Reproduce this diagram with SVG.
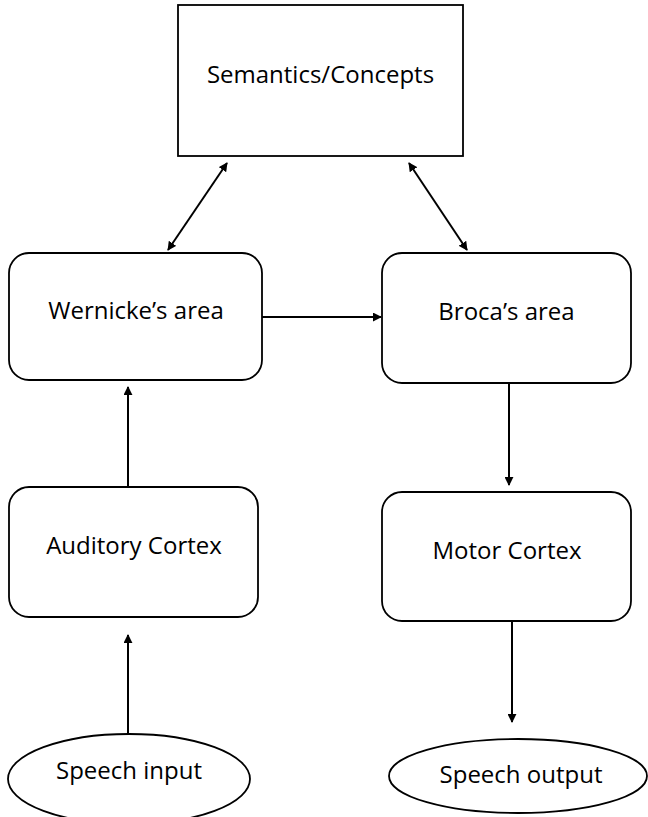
<svg xmlns="http://www.w3.org/2000/svg" width="648" height="817" viewBox="0 0 648 817">
<defs>
<marker id="ah" viewBox="0 0 10 10" refX="9" refY="5" markerWidth="4.5" markerHeight="4.5" orient="auto-start-reverse" markerUnits="strokeWidth">
<path d="M0,0 L10,5 L0,10 z" fill="#000"/>
</marker>
<style>
.box{fill:#fff;stroke:#000;stroke-width:1.8}
.lbl{font-family:"Open Sans","Liberation Sans",sans-serif;font-size:24px;fill:#000;text-anchor:middle}
.con{stroke:#000;stroke-width:2;fill:none}
</style>
</defs>
<rect width="648" height="817" fill="#fff"/>
<g id="semantics">
<rect class="box" x="178" y="5" width="285" height="151"/>
<text class="lbl" x="320.5" y="83">Semantics/Concepts</text>
</g>
<g id="wernicke">
<rect class="box" x="9" y="253" width="253" height="127" rx="20"/>
<text class="lbl" x="136" y="319">Wernicke’s area</text>
</g>
<g id="broca">
<rect class="box" x="382" y="253" width="249" height="130" rx="20"/>
<text class="lbl" x="506.5" y="320">Broca’s area</text>
</g>
<g id="auditory">
<rect class="box" x="9" y="487" width="249" height="130" rx="20"/>
<text class="lbl" x="134" y="554">Auditory Cortex</text>
</g>
<g id="motor">
<rect class="box" x="382" y="492" width="249" height="129" rx="20"/>
<text class="lbl" x="507" y="559">Motor Cortex</text>
</g>
<g id="speech-input">
<ellipse class="box" cx="129" cy="779" rx="121" ry="45"/>
<text class="lbl" x="129" y="779">Speech input</text>
</g>
<g id="speech-output">
<ellipse class="box" cx="518" cy="776" rx="129" ry="37"/>
<text class="lbl" x="521" y="783">Speech output</text>
</g>
<g id="connectors">
<line class="con" x1="227" y1="163" x2="168" y2="250" marker-start="url(#ah)" marker-end="url(#ah)"/>
<line class="con" x1="409" y1="163" x2="467" y2="250" marker-start="url(#ah)" marker-end="url(#ah)"/>
<line class="con" x1="262" y1="317" x2="381" y2="317" marker-end="url(#ah)"/>
<line class="con" x1="128" y1="487" x2="128" y2="387" marker-end="url(#ah)"/>
<line class="con" x1="509" y1="383" x2="509" y2="485" marker-end="url(#ah)"/>
<line class="con" x1="128" y1="734" x2="128" y2="635" marker-end="url(#ah)"/>
<line class="con" x1="512" y1="621" x2="512" y2="722" marker-end="url(#ah)"/>
</g>
</svg>
